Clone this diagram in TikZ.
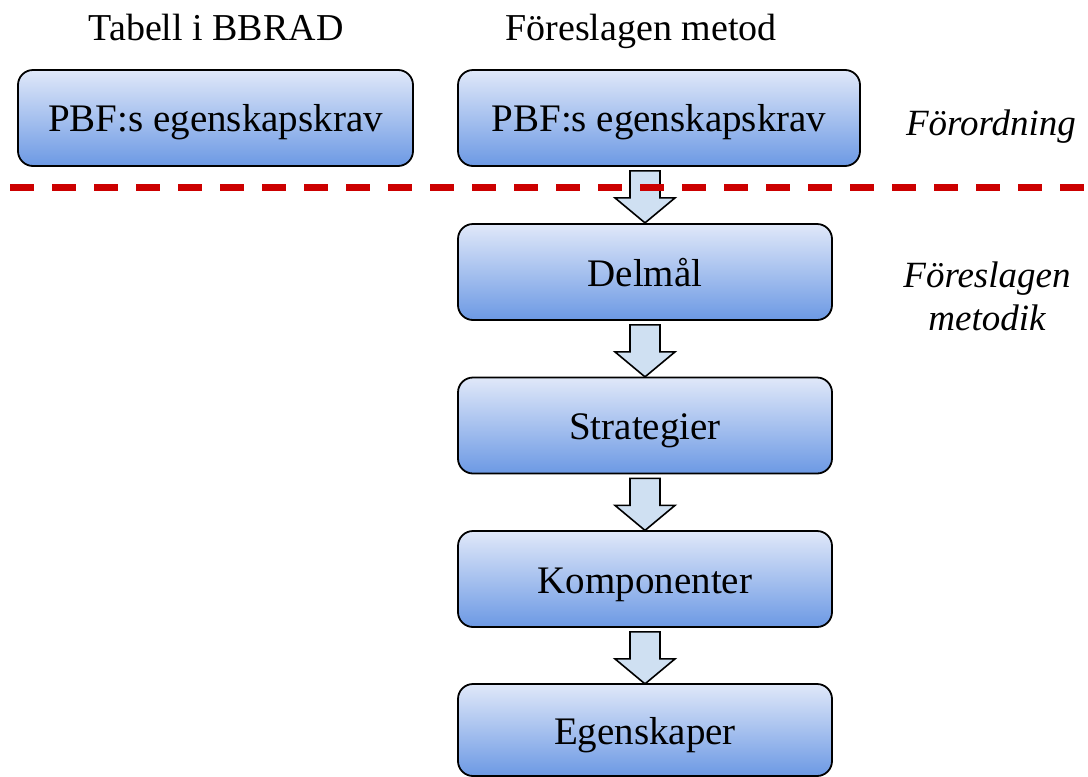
\documentclass[tikz,border=0pt]{standalone}
\usepackage{fontspec}
\setmainfont{Liberation Serif}
\definecolor{boxtop}{RGB}{224,232,249}
\definecolor{boxbot}{RGB}{108,153,228}
\definecolor{arrowfill}{RGB}{207,224,242}
\definecolor{dashred}{RGB}{204,0,0}
\tikzset{
  stepbox/.style={draw=black, line width=1.8pt, rounded corners=15pt,
    top color=boxtop, bottom color=boxbot, minimum height=96pt},
  boxtext/.style={anchor=base, font=\fontsize{39}{44}\selectfont},
  headtext/.style={anchor=base, font=\fontsize{38}{44}\selectfont},
  sidetext/.style={anchor=base, font=\fontsize{37}{43}\selectfont\itshape},
  blockarrow/.style={draw=black, line width=1.6pt, fill=arrowfill, line join=miter},
  divider/.style={draw=dashred, line width=7pt, dash pattern=on 24pt off 18pt}
}
\begin{document}
\begin{tikzpicture}[x=1pt,y=-1pt]
\useasboundingbox (0,0) rectangle (1088,777);
% boxes
\node[stepbox, minimum width=395pt] (pbfL) at (215.5,118) {};
\node[stepbox, minimum width=402pt] (pbfR) at (659,118) {};
\node[stepbox, minimum width=374pt] (delmal) at (645,272) {};
\node[stepbox, minimum width=374pt] (strat) at (645,425.5) {};
\node[stepbox, minimum width=374pt] (komp) at (645,579) {};
\node[stepbox, minimum width=374pt, minimum height=92pt] (egen) at (645,730) {};
% box texts
\node[boxtext] (tL) at (215.5,131) {PBF:s egenskapskrav};
\node[boxtext] (tR) at (659,131) {PBF:s egenskapskrav};
\node[boxtext] (tD) at (645,286) {Delmål};
\node[boxtext] (tS) at (645,439.5) {Strategier};
\node[boxtext] (tK) at (645,593) {Komponenter};
\node[boxtext] (tE) at (645,744) {Egenskaper};
% headers
\node[headtext] (h1) at (216,40) {Tabell i BBRAD};
\node[headtext] (h2) at (641,40) {Föreslagen metod};
% side labels
\node[sidetext] (s1) at (991,135) {Förordning};
\node[sidetext] (s2) at (987,287) {Föreslagen};
\node[sidetext] (s3) at (987,330) {metodik};
% block arrows
\foreach \a/\b in {pbfR/delmal, delmal/strat, strat/komp, komp/egen}{
  \draw[blockarrow] ([yshift=-4pt]\b.north |- \a.south) ++(-15,0) -- ++(0,27) -- ++(-15,0)
     -- ++(30,25) -- ++(30,-25) -- ++(-15,0) -- ++(0,-27) -- cycle;
}
% divider
\coordinate (dl) at (10,187);
\coordinate (dr) at (1088,187);
\draw[divider] (dl) -- (dr);
\end{tikzpicture}
\end{document}
